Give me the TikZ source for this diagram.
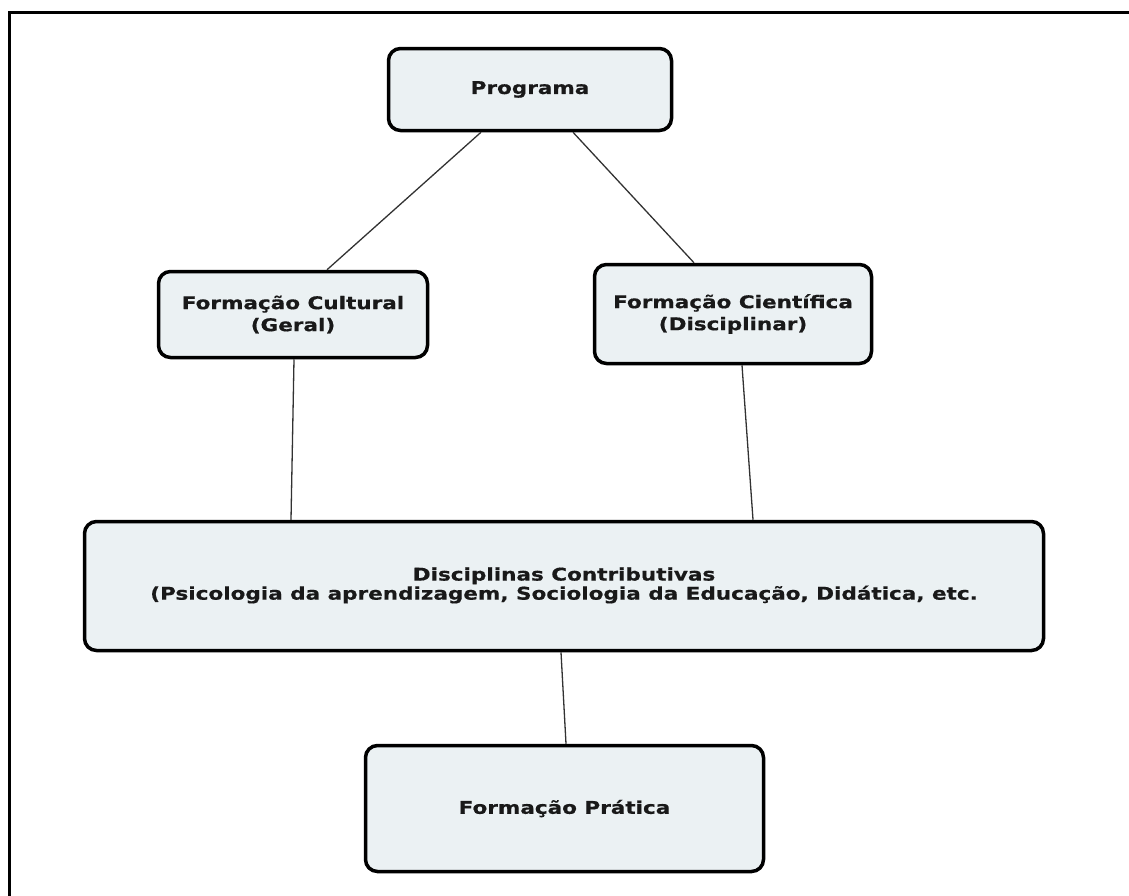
\documentclass[tikz,border=0pt]{standalone}
\usepackage{fontspec}
\setmainfont{DejaVu Sans}
\newfontfamily\boxfont[FakeStretch=1.23,FakeBold=0.6]{DejaVu Sans Bold}
\definecolor{boxfill}{RGB}{235,241,243}
\definecolor{txt}{RGB}{25,25,25}
\definecolor{conn}{RGB}{50,50,50}
\begin{document}
\begin{tikzpicture}[x=1pt,y=-1pt,
  box/.style={draw=black, line width=3.5pt, rounded corners=12pt, fill=boxfill,
    align=center, text=txt, inner sep=0pt,
    font=\boxfont\fontsize{17.5}{22}\selectfont},
  link/.style={draw=conn, line width=1.3pt}]
\useasboundingbox (0,0) rectangle (1129,895);
\draw[line width=3.5pt, black] (9.5,900) -- (9.5,12.5) -- (1135,12.5);
\node[box, minimum width=283pt, minimum height=82pt] (prog) at (530,89.5) {Programa};
\node[box, minimum width=269pt, minimum height=86pt] (cult) at (293,314.5) {Formação Cultural\\(Geral)};
\node[box, minimum width=277pt, minimum height=99pt] (cient) at (733,314) {Formação Científica\\(Disciplinar)};
\node[box, minimum width=959pt, minimum height=129pt, font=\boxfont\fontsize{17.5}{17}\selectfont] (disc) at (564,586) {\raisebox{4pt}{\begin{tabular}{@{}c@{}}Disciplinas Contributivas\\(Psicologia da aprendizagem, Sociologia da Educação, Didática, etc.\end{tabular}}};
\node[box, minimum width=398pt, minimum height=126pt] (prat) at (564.5,808.5) {Formação Prática};
\draw[link] ([xshift=-49pt]prog.south) -- ([xshift=34pt]cult.north);
\draw[link] ([xshift=43pt]prog.south) -- ([xshift=-39pt]cient.north);
\draw[link] ([xshift=1pt]cult.south) -- ([xshift=-273pt]disc.north);
\draw[link] ([xshift=9pt]cient.south) -- ([xshift=189pt]disc.north);
\draw[link] ([xshift=-3pt]disc.south) -- ([xshift=1.5pt]prat.north);
\end{tikzpicture}
\end{document}
